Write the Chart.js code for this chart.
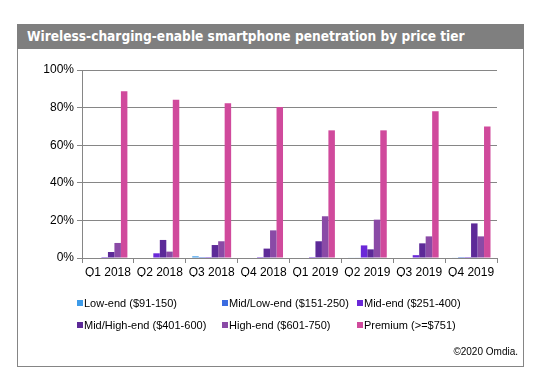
<!DOCTYPE html>
<html>
<head>
<meta charset="utf-8">
<script src="https://cdn.jsdelivr.net/npm/chart.js@4"></script>
<style>
    body { margin: 0; background: #fff; }
    #moldura {
        position: absolute; left: 17px; top: 24px; width: 505px; height: 341px;
        border: 1px solid #858585; box-sizing: content-box;
    }
    #titulo {
        position: absolute; left: 17px; top: 24px; width: 507px; height: 25px;
        background: #7f7f7f; color: #fff;
        font: bold 13.6px "DejaVu Sans Condensed", "DejaVu Sans", Verdana, sans-serif;
        line-height: 25px; padding-left: 10px; box-sizing: border-box; white-space: nowrap;
    }
    #grafico { position: absolute; left: 0; top: 0; }
    .item {
        position: absolute; font: 11px "Liberation Sans", Arial, sans-serif; color: #000;
        white-space: nowrap; line-height: 14px;
    }
    .item span {
        display: inline-block; width: 6px; height: 6px; margin-right: 1px; vertical-align: 1px;
    }
    #copy {
        position: absolute; right: 19px; top: 346px;
        font: 10px "Liberation Sans", Arial, sans-serif; color: #000;
    }
</style>
</head>
<body>
<div id="moldura"></div>
<div id="titulo">Wireless-charging-enable smartphone penetration by price tier</div>
<canvas id="grafico" width="537" height="382"></canvas>
<div id="legenda"></div>
<div id="copy">©2020 Omdia.</div>
<script>
// rótulos
const trimestres = ["Q1 2018", "Q2 2018", "Q3 2018", "Q4 2018", "Q1 2019", "Q2 2019", "Q3 2019", "Q4 2019"];
const faixas = ["Low-end ($91-150)", "Mid/Low-end ($151-250)", "Mid-end ($251-400)",
                "Mid/High-end ($401-600)", "High-end ($601-750)", "Premium (>=$751)"];
const cores = ["#3d9be9", "#3b6be0", "#6a28d8", "#5d2a98", "#8a4aa6", "#d04a9c"];

// valores em %
const lowEnd     = [0, 0, 0.9, 0, 0, 0.3, 0, 0.3];
const midLowEnd  = [0, 0, 0.5, 0, 0, 0.3, 0, 0.5];
const midEnd     = [0.5, 2.5, 0.5, 0.5, 0.5, 6.7, 1.5, 0.5];
const midHighEnd = [3.2, 9.6, 6.9, 5, 8.9, 4.6, 7.8, 18.4];
const highEnd    = [8, 3.4, 8.9, 14.7, 22.2, 20.4, 11.5, 11.5];
const premium    = [88.7, 84.2, 82.3, 80.3, 67.9, 67.9, 78, 70];

const series = [lowEnd, midLowEnd, midEnd, midHighEnd, highEnd, premium];

const fonte = { family: "'Liberation Sans', Arial, sans-serif", size: 12 };

const ctx = document.querySelector("#grafico");

const grafico = new Chart(ctx, {
    type: 'bar',
    data: {
        labels: trimestres,
        datasets: series.map((s, i) => ({
            label: faixas[i],
            data: s,
            backgroundColor: cores[i],
            borderWidth: 0,
            barPercentage: 1,
            categoryPercentage: 0.75
        }))
    },
    options: {
        responsive: false,
        animation: false,
        layout: { padding: { left: 42, right: 40, top: 70, bottom: 105 } },
        plugins: {
            legend: { display: false },
            title: { display: false },
            tooltip: { enabled: false }
        },
        scales: {
            y: {
                min: 0,
                max: 100,
                ticks: { stepSize: 20, callback: v => v + "%", color: "#000", font: fonte, padding: 3 },
                grid: { color: "#868686", tickLength: 5, tickColor: "#868686" },
                border: { color: "#868686" },
                afterFit: scale => { scale.width = 40; }
            },
            x: {
                ticks: { color: "#000", font: fonte, padding: 2, maxRotation: 0 },
                grid: { offset: true, drawOnChartArea: false, tickLength: 5, color: "#868686" },
                border: { color: "#868686" },
                afterFit: scale => { scale.height = 19; }
            }
        }
    }
});

// legenda em duas linhas de três colunas
const colunas = [77, 222, 357];
const linhas = [296, 318];
const legenda = document.querySelector("#legenda");
faixas.forEach((f, i) => {
    const div = document.createElement("div");
    div.className = "item";
    div.style.left = colunas[i % 3] + "px";
    div.style.top = linhas[Math.floor(i / 3)] + "px";
    div.innerHTML = '<span style="background:' + cores[i] + '"></span>' + f.replace(/</g, "&lt;").replace(/>/g, "&gt;");
    legenda.appendChild(div);
});
</script>
</body>
</html>
